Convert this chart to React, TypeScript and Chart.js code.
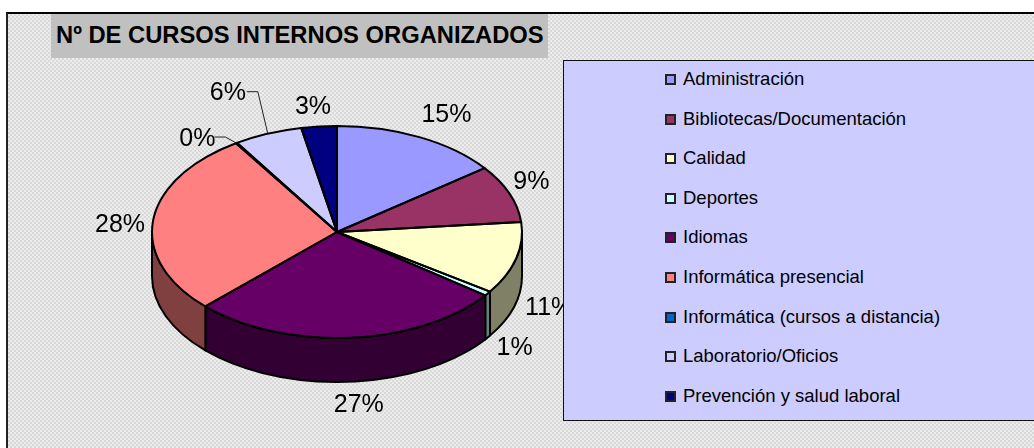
import React, { useEffect, useRef } from "react";
import { Chart, registerables } from "chart.js";

Chart.register(...registerables);

const categories = [
  "Administración",
  "Bibliotecas/Documentación",
  "Calidad",
  "Deportes",
  "Idiomas",
  "Informática presencial",
  "Informática (cursos a distancia)",
  "Laboratorio/Oficios",
  "Prevención y salud laboral",
];
const shares = [14.7, 8.8, 11, 0.7, 27.4, 28.2, 0.1, 6, 3.1];
const sliceColors = ["#9999FF", "#993366", "#FFFFCC", "#CCFFFF", "#660066", "#FF8080", "#0066CC", "#CCCCFF", "#000080"];
const wallColors = ["#4D4D80", "#4D1A33", "#808066", "#668080", "#330033", "#804040", "#003366", "#666680", "#000040"];
const titleText = "Nº DE CURSOS INTERNOS ORGANIZADOS";

// label placement relative to the rim point of each slice's middle angle
const labelNudges = [[27, -22], [22, -11], [33, 50], [27, 55], [9, 67], [-33, 4], [-39, -4], [-40, -41], [-6, -19.5]];
// leader lines: [index, startDx, startDy, elbowDx, elbowDy]
const leaders = [[6, -22, -6, -11, -6], [7, -21, -42, -10, -42]];

const FONT = "'Liberation Sans', Arial, sans-serif";
const SQUASH = 106 / 185;
const DEPTH = 44;

const pie3d = {
  id: "pie3d",
  beforeDatasetsDraw(chart: any) {
    const { ctx } = chart;
    const arcs = chart.getDatasetMeta(0).data;
    ctx.save();
    ctx.lineWidth = 2;
    ctx.strokeStyle = "#000";
    ctx.lineJoin = "round";
    arcs.forEach((a: any, i: number) => {
      const ry = a.outerRadius * SQUASH;
      const s = Math.max(a.startAngle, 0);
      const e = Math.min(a.endAngle, Math.PI);
      if (e <= s) return;
      ctx.beginPath();
      ctx.ellipse(a.x, a.y, a.outerRadius, ry, 0, s, e);
      ctx.ellipse(a.x, a.y + DEPTH, a.outerRadius, ry, 0, e, s, true);
      ctx.closePath();
      ctx.fillStyle = wallColors[i];
      ctx.fill();
      ctx.stroke();
    });
    ctx.restore();
    const cy = arcs[0].y;
    ctx.save();
    ctx.translate(0, cy);
    ctx.scale(1, SQUASH);
    ctx.translate(0, -cy);
  },
  afterDatasetsDraw(chart: any) {
    const { ctx } = chart;
    ctx.restore();
    const arcs = chart.getDatasetMeta(0).data;
    ctx.save();
    ctx.lineWidth = 2;
    ctx.strokeStyle = "#000";
    ctx.lineJoin = "round";
    arcs.forEach((a: any) => {
      ctx.beginPath();
      ctx.moveTo(a.x, a.y);
      ctx.ellipse(a.x, a.y, a.outerRadius, a.outerRadius * SQUASH, 0, a.startAngle, a.endAngle);
      ctx.closePath();
      ctx.stroke();
    });
    const rim = (a: any) => {
      const m = (a.startAngle + a.endAngle) / 2;
      return [a.x + a.outerRadius * Math.cos(m), a.y + a.outerRadius * SQUASH * Math.sin(m)];
    };
    ctx.lineWidth = 1;
    ctx.strokeStyle = "#222";
    leaders.forEach(([i, sx, sy, ex, ey]) => {
      const [x, y] = rim(arcs[i]);
      ctx.beginPath();
      ctx.moveTo(x + sx, y + sy);
      ctx.lineTo(x + ex, y + ey);
      ctx.lineTo(x, y);
      ctx.stroke();
    });
    ctx.fillStyle = "#000";
    ctx.font = `25px ${FONT}`;
    ctx.textAlign = "center";
    ctx.textBaseline = "middle";
    const total = shares.reduce((p, c) => p + c, 0);
    arcs.forEach((a: any, i: number) => {
      const [x, y] = rim(a);
      ctx.fillText(`${Math.round((shares[i] / total) * 100)}%`, x + labelNudges[i][0], y + labelNudges[i][1]);
    });
    ctx.restore();
  },
};

export default function App() {
  const ref = useRef<HTMLCanvasElement>(null);
  useEffect(() => {
    const chart = new Chart(ref.current!, {
      type: "pie",
      data: {
        labels: categories,
        datasets: [{ data: shares, backgroundColor: sliceColors, borderWidth: 0, clip: false } as any],
      },
      options: {
        animation: false,
        responsive: false,
        layout: { padding: { left: 152, right: 512, top: 47, bottom: 31 } },
        plugins: { legend: { display: false }, tooltip: { enabled: false }, title: { display: false } },
      },
      plugins: [pie3d],
    } as any);
    return () => chart.destroy();
  }, []);

  return (
    <div style={{ position: "absolute", left: 0, top: 0, width: 1034, height: 448, overflow: "hidden", background: "#fff", fontFamily: FONT }}>
      <div
        style={{
          position: "absolute", left: 6, top: 12, width: 1028, height: 436, boxSizing: "border-box",
          borderLeft: "2px solid #222", borderTop: "2px solid #000",
          backgroundImage: "repeating-conic-gradient(#d9d9d9 0 25%, #ececec 0 50%)",
          backgroundSize: "4px 4px",
        }}
      />
      <div
        style={{
          position: "absolute", left: 51, top: 14, width: 497, height: 44, background: "#C0C0C0",
          fontWeight: "bold", fontSize: 23.75, lineHeight: "42px", paddingLeft: 5, boxSizing: "border-box", color: "#000", whiteSpace: "nowrap",
        }}
      >
        {titleText}
      </div>
      <canvas ref={ref} width={1034} height={448} style={{ position: "absolute", left: 0, top: 0, display: "block" }} />
      <div
        style={{
          position: "absolute", left: 563, top: 60, width: 480, height: 361, boxSizing: "border-box",
          background: "#CCCCFF", border: "1px solid #111",
        }}
      >
        {categories.map((c, i) => (
          <div key={c} style={{ position: "absolute", left: 101, top: 3 + i * 39.6, height: 30, lineHeight: "30px", whiteSpace: "nowrap", fontSize: 18.5, color: "#000" }}>
            <span
              style={{
                position: "absolute", left: 0, top: 10, width: 11, height: 11, boxSizing: "border-box",
                background: sliceColors[i], border: "2px solid #222",
              }}
            />
            <span style={{ marginLeft: 18 }}>{c}</span>
          </div>
        ))}
      </div>
    </div>
  );
}
